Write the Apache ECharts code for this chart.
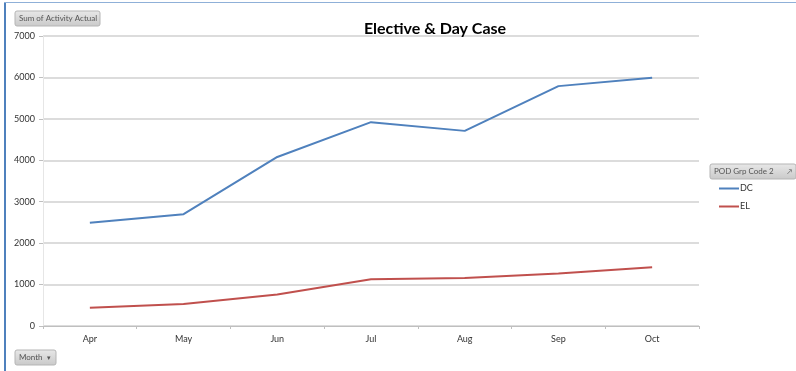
<!DOCTYPE html>
<html>
<head>
<meta charset="utf-8">
<script src="https://cdn.jsdelivr.net/npm/echarts@6/dist/echarts.min.js"></script>
<style>
  html, body { margin: 0; padding: 0; background: #fff; }
  #chart { width: 796px; height: 371px; }
</style>
</head>
<body>
<div id="chart"></div>
<script>
var months = ['Apr', 'May', 'Jun', 'Jul', 'Aug', 'Sep', 'Oct'];
var dcValues = [2490, 2700, 4080, 4920, 4710, 5790, 5990];
var elValues = [440, 530, 760, 1130, 1160, 1270, 1420];

var chartDom = document.getElementById('chart');
var chart = echarts.init(chartDom);

var font = 'Lato, "Noto Sans", sans-serif';

// grey pivot-style buttons
function button(x, y, w, h, label, arrow) {
  var els = [{
    type: 'rect',
    shape: { x: x, y: y, width: w, height: h, r: 2 },
    style: {
      fill: new echarts.graphic.LinearGradient(0, 0, 0, 1, [
        { offset: 0, color: '#e8e8e8' }, { offset: 1, color: '#c9c9c9' }
      ]),
      stroke: '#b5b5b5', lineWidth: 1
    }
  }, {
    type: 'text',
    style: { x: x + 4, y: y + h / 2, text: label, fill: '#555', font: '8px ' + font, verticalAlign: 'middle' }
  }];
  if (arrow) {
    els.push({
      type: 'text',
      style: { x: x + w - 9, y: y + h / 2, text: arrow, fill: '#555', font: '7px ' + font, verticalAlign: 'middle' }
    });
  }
  return els;
}

var graphics = [
  { type: 'rect', shape: { x: 4, y: 2, width: 2, height: 369 }, style: { fill: '#4f81bd' } },
  { type: 'rect', shape: { x: 4, y: 2, width: 792, height: 1 }, style: { fill: '#8fb0d8' } }
].concat(button(15, 11, 85, 15, 'Sum of Activity Actual'))
 .concat(button(15, 350, 41, 15, 'Month', '▾'))
 .concat(button(710, 164, 86, 15, 'POD Grp Code 2', '↗'));

var option = {
  animation: false,
  backgroundColor: '#fff',
  title: {
    text: 'Elective & Day Case',
    left: 430,
    top: 16,
    textAlign: 'center',
    textStyle: { fontFamily: font, fontSize: 16, fontWeight: 'bold', color: '#000' }
  },
  grid: { left: 43, right: 97, top: 36, bottom: 45 },
  legend: {
    orient: 'vertical',
    left: 714,
    top: 179,
    itemWidth: 20,
    itemHeight: 2,
    itemGap: 9,
    icon: 'rect',
    textStyle: { fontFamily: font, fontSize: 9, color: '#333', padding: [0, 0, 0, -4] },
    data: ['DC', 'EL']
  },
  xAxis: {
    type: 'category',
    data: months,
    boundaryGap: true,
    axisLine: { lineStyle: { color: '#bfbfbf' } },
    axisTick: { show: true, length: 3, lineStyle: { color: '#bfbfbf' } },
    axisLabel: { fontFamily: font, fontSize: 9, color: '#333', margin: 9 }
  },
  yAxis: {
    type: 'value',
    min: 0,
    max: 7000,
    interval: 1000,
    axisLine: { show: true, lineStyle: { color: '#e6e6e6' } },
    axisTick: { show: true, length: 4, lineStyle: { color: '#bfbfbf' } },
    axisLabel: {
      fontFamily: font, fontSize: 9, color: '#333', margin: 8,
      formatter: function (v) { return String(v); }
    },
    splitLine: { show: true, lineStyle: { color: '#d0d0d0', width: 1.5 } }
  },
  series: [
    {
      name: 'DC',
      type: 'line',
      data: dcValues,
      showSymbol: false,
      lineStyle: { color: '#4f81bd', width: 2 },
      itemStyle: { color: '#4f81bd' }
    },
    {
      name: 'EL',
      type: 'line',
      data: elValues,
      showSymbol: false,
      lineStyle: { color: '#c0504d', width: 2 },
      itemStyle: { color: '#c0504d' }
    }
  ],
  graphic: { elements: graphics }
};

chart.setOption(option);

window.addEventListener('resize', function () {
  chart.resize();
});
</script>
</body>
</html>
